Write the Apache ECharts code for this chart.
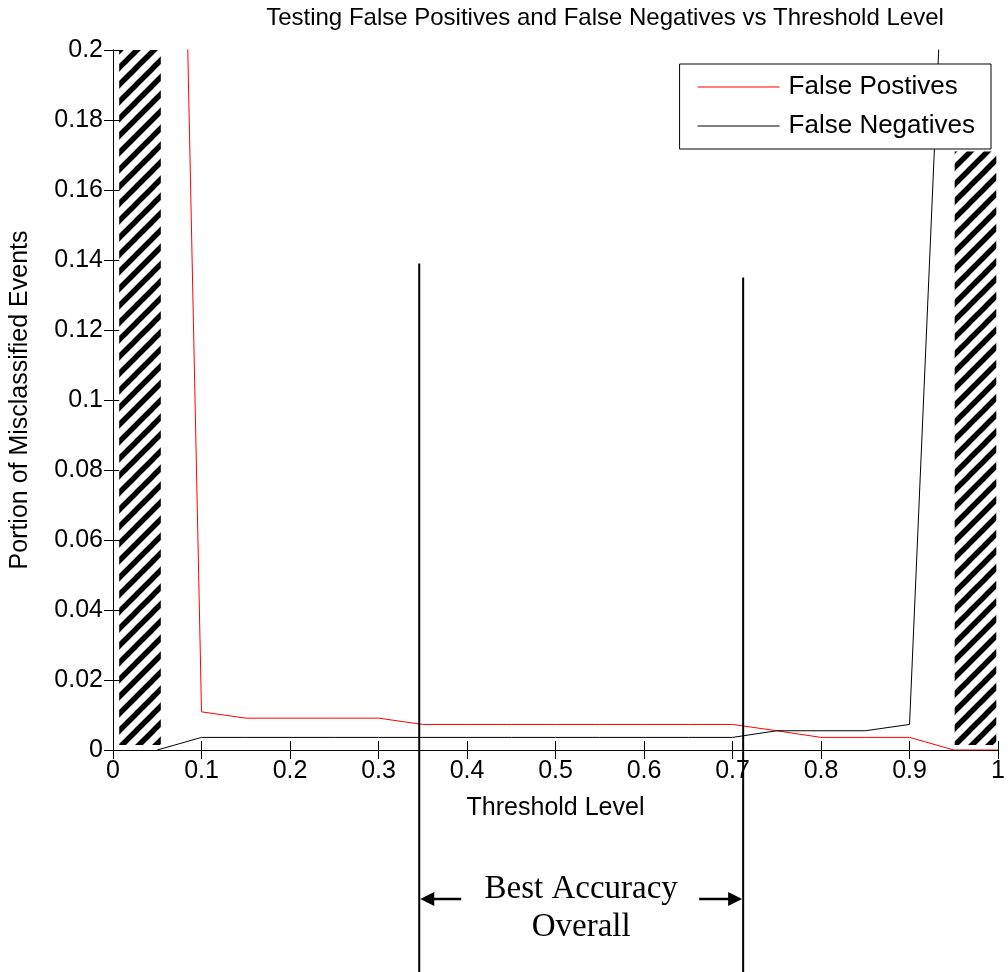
<!DOCTYPE html>
<html><head><meta charset="utf-8">
<script src="https://cdn.jsdelivr.net/npm/echarts@6/dist/echarts.min.js"></script>
<style>html,body{margin:0;padding:0;background:#fff}#c{width:1008px;height:972px}</style>
</head><body><div id="c"></div>
<script>
// ---- data ----
const thresholds     = [0.05, 0.1, 0.15, 0.2, 0.25, 0.3, 0.35, 0.4, 0.45, 0.5, 0.55, 0.6, 0.65, 0.7, 0.75, 0.8, 0.85, 0.9, 0.95, 1.0];
const falsePositives = [0.62, 0.0109, 0.0091, 0.0091, 0.0091, 0.0091, 0.0073, 0.0073, 0.0073, 0.0073, 0.0073, 0.0073, 0.0073, 0.0073, 0.0055, 0.0036, 0.0036, 0.0036, 0, 0];
const falseNegatives = [0, 0.0036, 0.0036, 0.0036, 0.0036, 0.0036, 0.0036, 0.0036, 0.0036, 0.0036, 0.0036, 0.0036, 0.0036, 0.0036, 0.0055, 0.0055, 0.0055, 0.0073, 0.30, 0.60];
const xTicks = [0, 0.1, 0.2, 0.3, 0.4, 0.5, 0.6, 0.7, 0.8, 0.9, 1];
const yTicks = [0, 0.02, 0.04, 0.06, 0.08, 0.1, 0.12, 0.14, 0.16, 0.18, 0.2];
// hatched exclusion zones: [xStart, xEnd, yBottom, yTop]
const hatchXStart = [0.007, 0.951];
const hatchXEnd   = [0.054, 0.998];
const hatchYBot   = [0.0014, 0.0014];
const hatchYTop   = [0.2, 0.171];
// best accuracy markers
const bestX   = [0.346, 0.712];
const bestTop = [0.139, 0.135];
const bestLabel = 'Best Accuracy\nOverall';

// ---- hatch pattern ----
function makeHatch() {
  const s = 17, c = document.createElement('canvas');
  c.width = s; c.height = s;
  const g = c.getContext('2d');
  g.fillStyle = '#fff'; g.fillRect(0, 0, s, s);
  g.strokeStyle = '#000'; g.lineWidth = 5.5;
  g.beginPath();
  [-s, 0, s].forEach(o => { g.moveTo(o - 2, s + 2); g.lineTo(o + s + 2, -2); });
  g.stroke();
  return c;
}
const hatchPattern = { image: makeHatch(), repeat: 'repeat' };

const FONT = '"Liberation Sans", Arial, sans-serif';
const chart = echarts.init(document.getElementById('c'), null, { renderer: 'canvas' });

const xMin = xTicks[0], xMax = xTicks[xTicks.length - 1];
const yMin = yTicks[0], yMax = yTicks[yTicks.length - 1];

const option = {
  animation: false,
  backgroundColor: '#fff',
  title: {
    text: 'Testing False Positives and False Negatives vs Threshold Level',
    left: 600, top: 1, textAlign: 'center',
    textStyle: { fontFamily: FONT, fontSize: 24, fontWeight: 'normal', color: '#000' }
  },
  legend: {
    orient: 'vertical', right: 17, top: 64,
    padding: [10, 16, 10, 18], itemGap: 13,
    itemWidth: 82, itemHeight: 1.2, icon: 'rect',
    backgroundColor: '#fff', borderColor: '#000', borderWidth: 1,
    textStyle: { fontFamily: FONT, fontSize: 26, color: '#000', padding: [0, 0, 0, 4] },
    data: ['False Postives', 'False Negatives']
  },
  grid: { left: 111, right: 8, top: 50, bottom: 222, containLabel: false },
  xAxis: [{
    type: 'value', min: xMin, max: xMax, interval: 0.1,
    name: 'Threshold Level', nameLocation: 'middle', nameGap: 46,
    nameTextStyle: { fontFamily: FONT, fontSize: 25, color: '#000' },
    axisLine: { lineStyle: { color: '#000', width: 1 } },
    axisTick: { inside: true, length: 9, lineStyle: { color: '#000' } },
    axisLabel: { fontFamily: FONT, fontSize: 25, color: '#000', margin: 9,
      formatter: v => String(+v.toFixed(2)) },
    splitLine: { show: false }
  }, {
    type: 'value', min: xMin, max: xMax, interval: 0.1, position: 'top',
    axisLine: { lineStyle: { color: '#000', width: 1 } },
    axisTick: { inside: true, length: 9, lineStyle: { color: '#000' } },
    axisLabel: { show: false }, splitLine: { show: false }
  }],
  yAxis: [{
    type: 'value', min: yMin, max: yMax, interval: 0.02,
    name: 'Portion of Misclassified Events', nameLocation: 'middle', nameGap: 80, nameRotate: 90,
    nameTextStyle: { fontFamily: FONT, fontSize: 25, color: '#000' },
    axisLine: { lineStyle: { color: '#000', width: 1 } },
    axisTick: { inside: true, length: 9, lineStyle: { color: '#000' } },
    axisLabel: { fontFamily: FONT, fontSize: 25, color: '#000', margin: 10,
      formatter: v => String(+v.toFixed(2)) },
    splitLine: { show: false }
  }, {
    type: 'value', min: yMin, max: yMax, interval: 0.02, position: 'right',
    axisLine: { lineStyle: { color: '#000', width: 1 } },
    axisTick: { inside: true, length: 9, lineStyle: { color: '#000' } },
    axisLabel: { show: false }, splitLine: { show: false }
  }],
  series: [
    {
      type: 'custom', name: 'hatch', z: 1, silent: true,
      data: hatchXStart.map((x, i) => [x, hatchXEnd[i], hatchYBot[i], hatchYTop[i]]),
      encode: { x: [0, 1], y: [2, 3] },
      renderItem: (params, api) => {
        const p0 = api.coord([api.value(0), api.value(3)]);
        const p1 = api.coord([api.value(1), api.value(2)]);
        return { type: 'rect', shape: { x: p0[0], y: p0[1], width: p1[0] - p0[0], height: p1[1] - p0[1] },
          style: { fill: hatchPattern, stroke: null } };
      }
    },
    {
      type: 'line', name: 'False Postives', z: 3,
      data: thresholds.map((x, i) => [x, falsePositives[i]]),
      symbol: 'none', lineStyle: { color: '#ff0000', width: 1 }, itemStyle: { color: '#ff0000' }
    },
    {
      type: 'line', name: 'False Negatives', z: 3,
      data: thresholds.map((x, i) => [x, falseNegatives[i]]),
      symbol: 'none', lineStyle: { color: '#000', width: 1 }, itemStyle: { color: '#000' }
    },
    {
      type: 'custom', name: 'best', z: 10, clip: false, silent: true,
      data: bestX.map((x, i) => [x, bestTop[i]]),
      renderItem: (params, api) => {
        const p = api.coord([api.value(0), api.value(1)]);
        const H = api.getHeight();
        const axisY = api.coord([0, 0])[1];
        const ay = axisY + 149;
        const children = [{
          type: 'line', shape: { x1: p[0], y1: p[1], x2: p[0], y2: H },
          style: { stroke: '#000', lineWidth: 2 }
        }];
        if (params.dataIndex === 0) {
          const x0 = p[0];
          const x1 = api.coord([bestX[1], 0])[0];
          children.push(
            { type: 'line', shape: { x1: x0 + 12, y1: ay, x2: x0 + 42, y2: ay }, style: { stroke: '#000', lineWidth: 2.5 } },
            { type: 'polygon', shape: { points: [[x0 + 1, ay], [x0 + 15, ay - 7], [x0 + 15, ay + 7]] }, style: { fill: '#000' } },
            { type: 'line', shape: { x1: x1 - 44, y1: ay, x2: x1 - 12, y2: ay }, style: { stroke: '#000', lineWidth: 2.5 } },
            { type: 'polygon', shape: { points: [[x1 - 1, ay], [x1 - 15, ay - 7], [x1 - 15, ay + 7]] }, style: { fill: '#000' } },
            { type: 'text', style: { text: bestLabel, x: (x0 + x1) / 2, y: ay + 9, align: 'center', verticalAlign: 'middle',
              fontFamily: '"Liberation Serif", "Times New Roman", serif', fontSize: 33, lineHeight: 38, fill: '#000' } }
          );
        }
        return { type: 'group', children };
      }
    }
  ]
};
chart.setOption(option);
</script>
</body></html>
